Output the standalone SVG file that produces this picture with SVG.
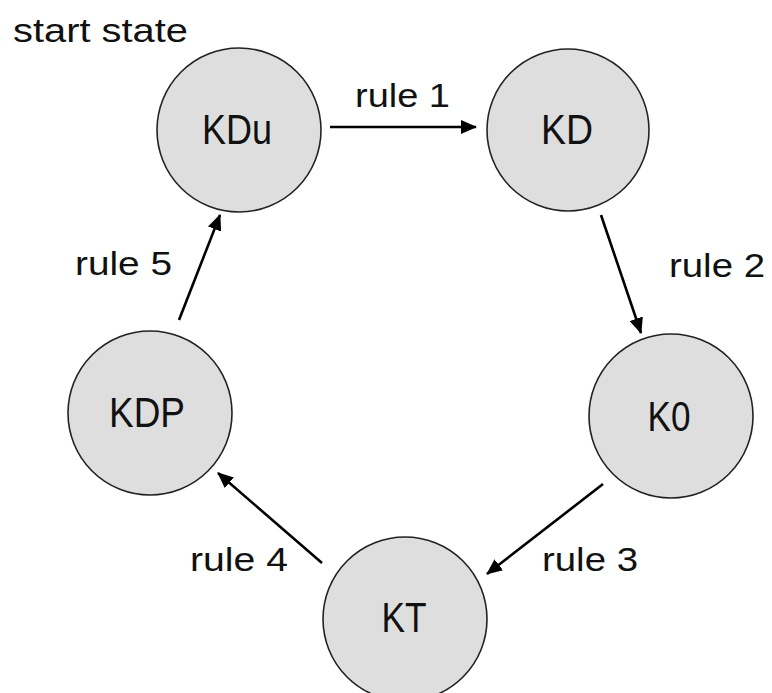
<svg xmlns="http://www.w3.org/2000/svg" width="772" height="693" viewBox="0 0 772 693">
<style>
.node circle{fill:#dedede;stroke:#222;stroke-width:1.6}
.node text{font-family:"Liberation Sans",Arial,sans-serif;font-size:42px;fill:#111;text-anchor:middle}
.lbl{font-family:"Liberation Sans",Arial,sans-serif;font-size:34px;fill:#111}
.edge{stroke:#000;stroke-width:2.6;fill:none;marker-end:url(#ah)}
</style>
<defs>
<marker id="ah" markerUnits="userSpaceOnUse" markerWidth="16" markerHeight="14" refX="15" refY="7" orient="auto">
<path d="M0,0 L16,7 L0,14 z" fill="#000"/>
</marker>
</defs>
<rect width="772" height="693" fill="#fff"/>
<text class="lbl" x="13" y="42" font-size="35" textLength="175" lengthAdjust="spacingAndGlyphs">start state</text>
<g id="KDu" class="node"><circle cx="239" cy="130" r="82"/><text x="237" y="144" textLength="70" lengthAdjust="spacingAndGlyphs">KDu</text></g>
<g id="KD" class="node"><circle cx="568" cy="130" r="81"/><text x="567" y="144" textLength="52" lengthAdjust="spacingAndGlyphs">KD</text></g>
<g id="K0" class="node"><circle cx="671" cy="416" r="82"/><text x="669" y="431" textLength="43" lengthAdjust="spacingAndGlyphs">K0</text></g>
<g id="KT" class="node"><circle cx="405" cy="619" r="82"/><text x="404" y="632" textLength="45" lengthAdjust="spacingAndGlyphs">KT</text></g>
<g id="KDP" class="node"><circle cx="150" cy="413" r="82"/><text x="147" y="427" textLength="76" lengthAdjust="spacingAndGlyphs">KDP</text></g>
<g id="connectors">
<line class="edge" x1="330" y1="127" x2="476" y2="127"/>
<line class="edge" x1="601" y1="215" x2="641" y2="333" stroke-width="3"/>
<line class="edge" x1="603" y1="484" x2="487" y2="574" stroke-width="2.2"/>
<line class="edge" x1="322" y1="563" x2="218" y2="473" stroke-width="2.2"/>
<line class="edge" x1="179" y1="320" x2="220" y2="215"/>
<text class="lbl" x="355" y="107" textLength="95" lengthAdjust="spacingAndGlyphs">rule 1</text>
<text class="lbl" x="669" y="277" textLength="96" lengthAdjust="spacingAndGlyphs">rule 2</text>
<text class="lbl" x="542" y="571" textLength="96" lengthAdjust="spacingAndGlyphs">rule 3</text>
<text class="lbl" x="190" y="571" textLength="98" lengthAdjust="spacingAndGlyphs">rule 4</text>
<text class="lbl" x="75" y="275" textLength="97" lengthAdjust="spacingAndGlyphs">rule 5</text>
</g>
</svg>
